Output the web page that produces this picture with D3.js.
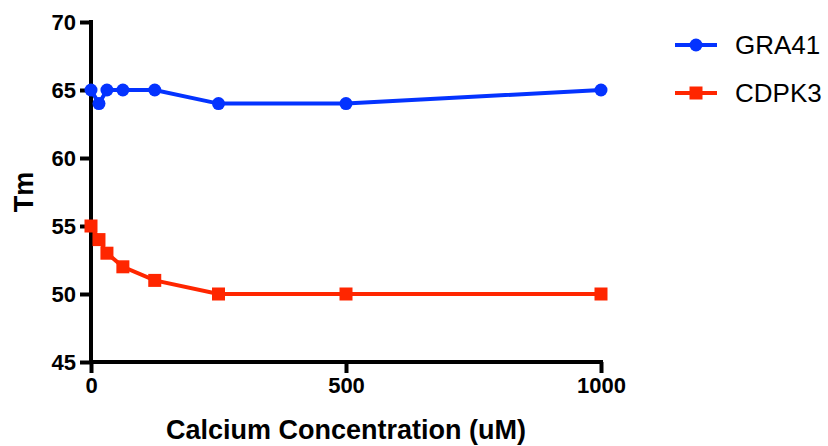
<!DOCTYPE html>
<html>
<head>
<meta charset="utf-8">
<script src="https://cdn.jsdelivr.net/npm/d3@7"></script>
<style>
  body { margin: 0; background: #fff; }
  text { font-family: "Liberation Sans", Arial, sans-serif; }
</style>
</head>
<body>
<div id="chart"></div>
<script>
// calcium concentrations (uM), 2-fold dilutions
var conc = [0, 15.625, 31.25, 62.5, 125, 250, 500, 1000];
var gra41 = [65, 64, 65, 65, 65, 64, 64, 65];
var cdpk3 = [55, 54, 53, 52, 51, 50, 50, 50];
var xTicks = [0, 500, 1000];
var yTicks = [45, 50, 55, 60, 65, 70];
var seriesNames = ["GRA41", "CDPK3"];

var width = 828, height = 446;
var margin = { top: 22, left: 91, right: 227, bottom: 84 };

var svg = d3.select("#chart")
    .append("svg")
    .attr("width", width)
    .attr("height", height);

var x = d3.scaleLinear().domain([0, 1000]).range([margin.left, width - margin.right]);
var y = d3.scaleLinear().domain([45, 70]).range([height - margin.bottom, margin.top]);

// axes
var xAxis = svg.append("g")
    .attr("transform", "translate(0," + y(45) + ")")
    .call(d3.axisBottom(x).tickValues(xTicks).tickFormat(d3.format("d"))
        .tickSize(11).tickSizeOuter(0).tickPadding(4));

var yAxis = svg.append("g")
    .attr("transform", "translate(" + x(0) + ",0)")
    .call(d3.axisLeft(y).tickValues(yTicks).tickSize(11).tickSizeOuter(0).tickPadding(4));

[xAxis, yAxis].forEach(function (g) {
    g.selectAll(".domain").attr("stroke", "#000").attr("stroke-width", 4);
    g.selectAll(".tick line").attr("stroke", "#000").attr("stroke-width", 4);
    g.selectAll(".tick text")
        .attr("fill", "#000")
        .style("font-size", "22px")
        .style("font-weight", "bold");
});
// extend the lines a bit so the corners look square
xAxis.select(".domain").attr("d", "M" + (x(0) - 2) + ",0H" + (x(1000) + 2));
yAxis.select(".domain").attr("d", "M0," + (y(70) - 2) + "V" + y(45));

// axis titles
svg.append("text")
    .attr("x", (x(0) + x(1000)) / 2)
    .attr("y", 439)
    .attr("text-anchor", "middle")
    .style("font-size", "27px")
    .style("font-weight", "bold")
    .text("Calcium Concentration (uM)");

svg.append("text")
    .attr("transform", "translate(33," + y(57.5) + ") rotate(-90)")
    .attr("text-anchor", "middle")
    .style("font-size", "27px")
    .style("font-weight", "bold")
    .text("Tm");

var line = d3.line()
    .x(function (d) { return x(d[0]); })
    .y(function (d) { return y(d[1]); });

var blue = "#0433ff", red = "#ff2600";

var blueData = d3.zip(conc, gra41);
var redData = d3.zip(conc, cdpk3);

svg.append("path")
    .datum(blueData)
    .attr("d", line)
    .attr("fill", "none")
    .attr("stroke", blue)
    .attr("stroke-width", 4);

svg.selectAll(".dot")
    .data(blueData)
    .enter().append("circle")
    .attr("class", "dot")
    .attr("cx", function (d) { return x(d[0]); })
    .attr("cy", function (d) { return y(d[1]); })
    .attr("r", 6.5)
    .attr("fill", blue);

svg.append("path")
    .datum(redData)
    .attr("d", line)
    .attr("fill", "none")
    .attr("stroke", red)
    .attr("stroke-width", 4);

svg.selectAll(".sq")
    .data(redData)
    .enter().append("rect")
    .attr("class", "sq")
    .attr("x", function (d) { return x(d[0]) - 6.5; })
    .attr("y", function (d) { return y(d[1]) - 6.5; })
    .attr("width", 13)
    .attr("height", 13)
    .attr("fill", red);

// legend
var legend = svg.selectAll(".legend")
    .data(seriesNames)
    .enter().append("g")
    .attr("class", "legend")
    .attr("transform", function (d, i) { return "translate(675," + (45 + i * 48) + ")"; });

legend.append("line")
    .attr("x1", 0).attr("x2", 42)
    .attr("stroke", function (d, i) { return i == 0 ? blue : red; })
    .attr("stroke-width", 4);

legend.filter(function (d, i) { return i == 0; })
    .append("circle").attr("cx", 21).attr("r", 6.5).attr("fill", blue);
legend.filter(function (d, i) { return i == 1; })
    .append("rect").attr("x", 14.5).attr("y", -6.5).attr("width", 13).attr("height", 13).attr("fill", red);

legend.append("text")
    .attr("x", 60)
    .attr("dy", "0.36em")
    .style("font-size", "26px")
    .text(function (d) { return d; });
</script>
</body>
</html>
